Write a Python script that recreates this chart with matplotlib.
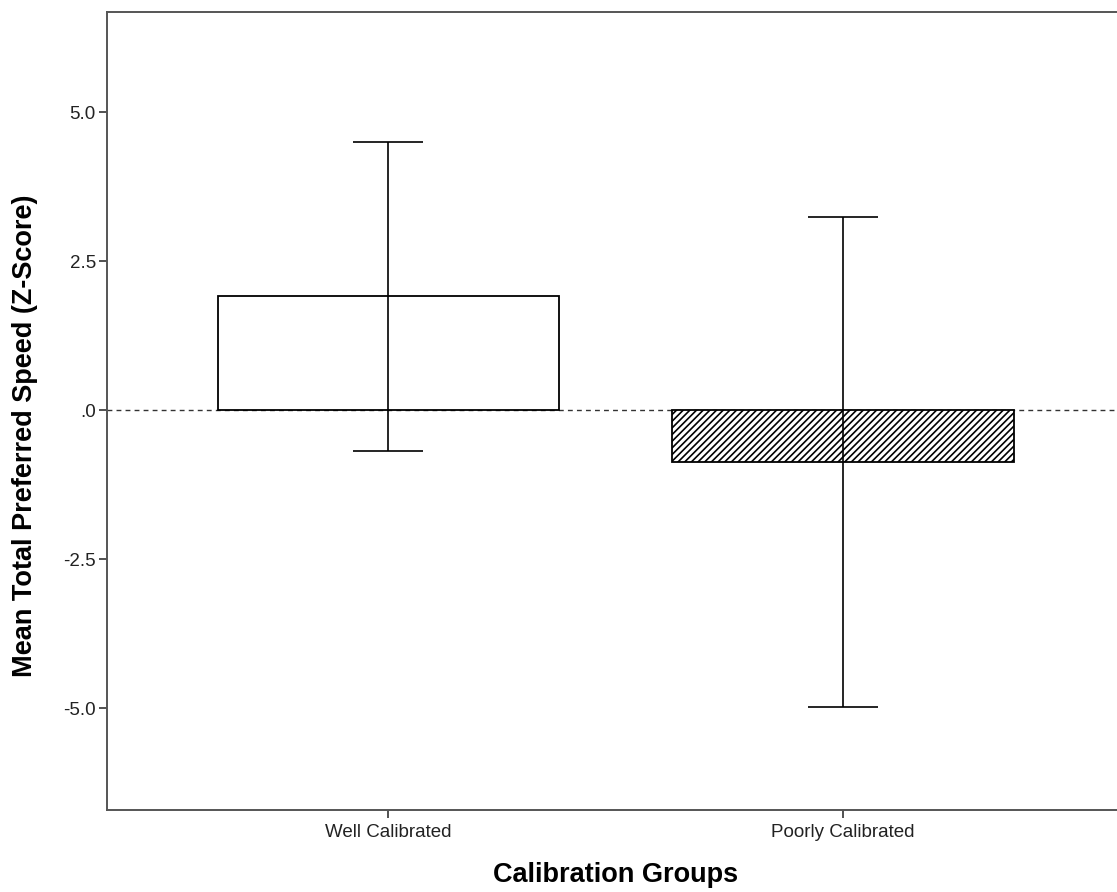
import matplotlib
matplotlib.use("Agg")
import matplotlib.pyplot as plt

# group means and error-bar limits
groups = ["Well Calibrated", "Poorly Calibrated"]
means = [1.91, -0.87]
ci_upper = [4.50, 3.24]
ci_lower = [-0.69, -4.98]
hatches = ["", "/////"]
yticks = [-5.0, -2.5, 0.0, 2.5, 5.0]
ytick_labels = ["-5.0", "-2.5", ".0", "2.5", "5.0"]

plt.rcParams["font.family"] = ["Liberation Sans", "DejaVu Sans"]
plt.rcParams["hatch.linewidth"] = 1.2

fig = plt.figure(figsize=(11.17, 8.92), dpi=100)
ax = fig.add_axes([0.0958, 0.0919, 0.9105, 0.8946])

x = list(range(len(groups)))
ax.axhline(0, color="#333333", lw=1.0, linestyle=(0, (3.5, 3)), zorder=1)
ax.bar(x, means, width=0.75, color="white", edgecolor="black",
       linewidth=1.3, hatch=hatches, zorder=2)

err_low = [m - lo for m, lo in zip(means, ci_lower)]
err_high = [hi - m for m, hi in zip(means, ci_upper)]
ax.errorbar(x, means, yerr=[err_low, err_high], fmt="none", ecolor="black",
            elinewidth=1.2, capsize=25, capthick=1.2, zorder=3)

ax.set_xlim(-0.618, 1.618)
ax.set_ylim(-6.71, 6.68)
ax.set_xticks(x)
ax.set_xticklabels(groups)
ax.set_yticks(yticks)
ax.set_yticklabels(ytick_labels)
ax.tick_params(axis="both", direction="out", length=6, width=1.2,
               colors="#333333", labelsize=13.5, labelcolor="#222222", pad=2)
ax.tick_params(axis="x", pad=4)

for s in ax.spines.values():
    s.set_color("#555555")
    s.set_linewidth(1.4)

ax.set_xlabel("Calibration Groups", fontsize=19.5, fontweight="bold", labelpad=15)
ax.set_ylabel("Mean Total Preferred Speed (Z-Score)", fontsize=19.5,
              fontweight="bold")
ax.yaxis.set_label_coords(-0.068, 0.469)

fig.savefig("out.png", dpi=100)
